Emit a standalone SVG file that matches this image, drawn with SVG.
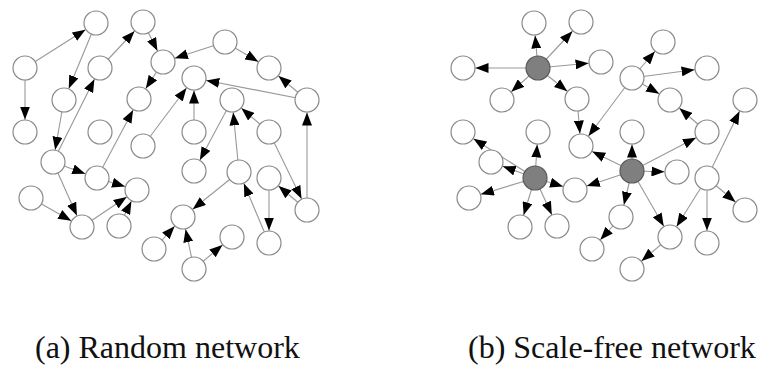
<svg xmlns="http://www.w3.org/2000/svg" width="779" height="374" viewBox="0 0 779 374">
<style>
.e{stroke:#999;stroke-width:1.1;fill:none;marker-end:url(#ah)}
.n{fill:#fff;stroke:#8a8a8a;stroke-width:1.2}
.h{fill:#7f7f7f;stroke:#5a5a5a;stroke-width:1.2}
.lbl{font-size:32px;fill:#111}
</style>
<defs>
<marker id="ah" markerUnits="userSpaceOnUse" markerWidth="13" markerHeight="10" refX="25.5" refY="5" orient="auto">
<path d="M0,0 L13,5 L0,10 Z" fill="#000"/>
</marker>
</defs>
<rect width="779" height="374" fill="#fff"/>
<g id="connectors">
<g id="edges-a">
<line class="e" x1="25" y1="68" x2="96" y2="23"/>
<line class="e" x1="25" y1="68" x2="25" y2="132"/>
<line class="e" x1="96" y1="23" x2="64" y2="100"/>
<line class="e" x1="64" y1="100" x2="53" y2="162"/>
<line class="e" x1="53" y1="162" x2="100" y2="68"/>
<line class="e" x1="100" y1="68" x2="143" y2="22"/>
<line class="e" x1="143" y1="22" x2="163" y2="62"/>
<line class="e" x1="163" y1="62" x2="139" y2="99"/>
<line class="e" x1="97" y1="178" x2="139" y2="99"/>
<line class="e" x1="225" y1="42" x2="163" y2="62"/>
<line class="e" x1="225" y1="42" x2="269" y2="68"/>
<line class="e" x1="307" y1="100" x2="269" y2="68"/>
<line class="e" x1="307" y1="100" x2="194" y2="78"/>
<line class="e" x1="194" y1="132" x2="194" y2="78"/>
<line class="e" x1="143" y1="146" x2="194" y2="78"/>
<line class="e" x1="232" y1="100" x2="194" y2="171"/>
<line class="e" x1="239" y1="172" x2="232" y2="100"/>
<line class="e" x1="269" y1="132" x2="232" y2="100"/>
<line class="e" x1="269" y1="132" x2="307" y2="210"/>
<line class="e" x1="307" y1="210" x2="307" y2="100"/>
<line class="e" x1="307" y1="210" x2="269" y2="178"/>
<line class="e" x1="269" y1="178" x2="269" y2="243"/>
<line class="e" x1="269" y1="243" x2="239" y2="172"/>
<line class="e" x1="239" y1="172" x2="183" y2="217"/>
<line class="e" x1="194" y1="269" x2="183" y2="217"/>
<line class="e" x1="194" y1="269" x2="232" y2="237"/>
<line class="e" x1="154" y1="249" x2="183" y2="217"/>
<line class="e" x1="53" y1="162" x2="97" y2="178"/>
<line class="e" x1="53" y1="162" x2="82" y2="227"/>
<line class="e" x1="31" y1="198" x2="82" y2="227"/>
<line class="e" x1="82" y1="227" x2="137" y2="190"/>
<line class="e" x1="97" y1="178" x2="137" y2="190"/>
<line class="e" x1="119" y1="226" x2="137" y2="190"/>
</g>
<g id="edges-b" transform="translate(438,0)">
<line class="e" x1="100" y1="68" x2="96" y2="23"/>
<line class="e" x1="100" y1="68" x2="143" y2="22"/>
<line class="e" x1="100" y1="68" x2="25" y2="68"/>
<line class="e" x1="100" y1="68" x2="163" y2="62"/>
<line class="e" x1="100" y1="68" x2="64" y2="100"/>
<line class="e" x1="100" y1="68" x2="139" y2="99"/>
<line class="e" x1="139" y1="99" x2="143" y2="146"/>
<line class="e" x1="194" y1="78" x2="143" y2="146"/>
<line class="e" x1="194" y1="78" x2="225" y2="42"/>
<line class="e" x1="194" y1="78" x2="269" y2="68"/>
<line class="e" x1="194" y1="78" x2="232" y2="100"/>
<line class="e" x1="269" y1="132" x2="232" y2="100"/>
<line class="e" x1="194" y1="171" x2="269" y2="132"/>
<line class="e" x1="269" y1="178" x2="307" y2="100"/>
<line class="e" x1="97" y1="178" x2="25" y2="132"/>
<line class="e" x1="97" y1="178" x2="100" y2="132"/>
<line class="e" x1="97" y1="178" x2="53" y2="162"/>
<line class="e" x1="97" y1="178" x2="31" y2="198"/>
<line class="e" x1="97" y1="178" x2="137" y2="190"/>
<line class="e" x1="97" y1="178" x2="82" y2="227"/>
<line class="e" x1="97" y1="178" x2="119" y2="226"/>
<line class="e" x1="194" y1="171" x2="194" y2="132"/>
<line class="e" x1="194" y1="171" x2="239" y2="172"/>
<line class="e" x1="194" y1="171" x2="137" y2="190"/>
<line class="e" x1="194" y1="171" x2="183" y2="217"/>
<line class="e" x1="194" y1="171" x2="232" y2="237"/>
<line class="e" x1="194" y1="171" x2="143" y2="146"/>
<line class="e" x1="269" y1="178" x2="232" y2="237"/>
<line class="e" x1="269" y1="178" x2="269" y2="243"/>
<line class="e" x1="269" y1="178" x2="307" y2="210"/>
<line class="e" x1="232" y1="237" x2="194" y2="269"/>
<line class="e" x1="183" y1="217" x2="154" y2="249"/>
</g>
</g>
<g id="nodes-a">
<g id="a1"><circle class="n" cx="96" cy="23" r="12"/></g>
<g id="a2"><circle class="n" cx="143" cy="22" r="12"/></g>
<g id="a3"><circle class="n" cx="25" cy="68" r="12"/></g>
<g id="a4"><circle class="n" cx="100" cy="68" r="12"/></g>
<g id="a5"><circle class="n" cx="163" cy="62" r="12"/></g>
<g id="a6"><circle class="n" cx="225" cy="42" r="12"/></g>
<g id="a7"><circle class="n" cx="269" cy="68" r="12"/></g>
<g id="a8"><circle class="n" cx="194" cy="78" r="12"/></g>
<g id="a9"><circle class="n" cx="64" cy="100" r="12"/></g>
<g id="a10"><circle class="n" cx="139" cy="99" r="12"/></g>
<g id="a11"><circle class="n" cx="232" cy="100" r="12"/></g>
<g id="a12"><circle class="n" cx="307" cy="100" r="12"/></g>
<g id="a13"><circle class="n" cx="25" cy="132" r="12"/></g>
<g id="a14"><circle class="n" cx="100" cy="132" r="12"/></g>
<g id="a15"><circle class="n" cx="269" cy="132" r="12"/></g>
<g id="a16"><circle class="n" cx="194" cy="132" r="12"/></g>
<g id="a17"><circle class="n" cx="143" cy="146" r="12"/></g>
<g id="a18"><circle class="n" cx="53" cy="162" r="12"/></g>
<g id="a19"><circle class="n" cx="97" cy="178" r="12"/></g>
<g id="a20"><circle class="n" cx="137" cy="190" r="12"/></g>
<g id="a21"><circle class="n" cx="31" cy="198" r="12"/></g>
<g id="a22"><circle class="n" cx="82" cy="227" r="12"/></g>
<g id="a23"><circle class="n" cx="119" cy="226" r="12"/></g>
<g id="a24"><circle class="n" cx="194" cy="171" r="12"/></g>
<g id="a25"><circle class="n" cx="239" cy="172" r="12"/></g>
<g id="a26"><circle class="n" cx="269" cy="178" r="12"/></g>
<g id="a27"><circle class="n" cx="307" cy="210" r="12"/></g>
<g id="a28"><circle class="n" cx="183" cy="217" r="12"/></g>
<g id="a29"><circle class="n" cx="232" cy="237" r="12"/></g>
<g id="a30"><circle class="n" cx="269" cy="243" r="12"/></g>
<g id="a31"><circle class="n" cx="154" cy="249" r="12"/></g>
<g id="a32"><circle class="n" cx="194" cy="269" r="12"/></g>
</g>
<g id="nodes-b" transform="translate(438,0)">
<g id="b1"><circle class="n" cx="96" cy="23" r="12"/></g>
<g id="b2"><circle class="n" cx="143" cy="22" r="12"/></g>
<g id="b3"><circle class="n" cx="25" cy="68" r="12"/></g>
<g id="b4"><circle class="h" cx="100" cy="68" r="12"/></g>
<g id="b5"><circle class="n" cx="163" cy="62" r="12"/></g>
<g id="b6"><circle class="n" cx="225" cy="42" r="12"/></g>
<g id="b7"><circle class="n" cx="269" cy="68" r="12"/></g>
<g id="b8"><circle class="n" cx="194" cy="78" r="12"/></g>
<g id="b9"><circle class="n" cx="64" cy="100" r="12"/></g>
<g id="b10"><circle class="n" cx="139" cy="99" r="12"/></g>
<g id="b11"><circle class="n" cx="232" cy="100" r="12"/></g>
<g id="b12"><circle class="n" cx="307" cy="100" r="12"/></g>
<g id="b13"><circle class="n" cx="25" cy="132" r="12"/></g>
<g id="b14"><circle class="n" cx="100" cy="132" r="12"/></g>
<g id="b15"><circle class="n" cx="269" cy="132" r="12"/></g>
<g id="b16"><circle class="n" cx="194" cy="132" r="12"/></g>
<g id="b17"><circle class="n" cx="143" cy="146" r="12"/></g>
<g id="b18"><circle class="n" cx="53" cy="162" r="12"/></g>
<g id="b19"><circle class="h" cx="97" cy="178" r="12"/></g>
<g id="b20"><circle class="n" cx="137" cy="190" r="12"/></g>
<g id="b21"><circle class="n" cx="31" cy="198" r="12"/></g>
<g id="b22"><circle class="n" cx="82" cy="227" r="12"/></g>
<g id="b23"><circle class="n" cx="119" cy="226" r="12"/></g>
<g id="b24"><circle class="h" cx="194" cy="171" r="12"/></g>
<g id="b25"><circle class="n" cx="239" cy="172" r="12"/></g>
<g id="b26"><circle class="n" cx="269" cy="178" r="12"/></g>
<g id="b27"><circle class="n" cx="307" cy="210" r="12"/></g>
<g id="b28"><circle class="n" cx="183" cy="217" r="12"/></g>
<g id="b29"><circle class="n" cx="232" cy="237" r="12"/></g>
<g id="b30"><circle class="n" cx="269" cy="243" r="12"/></g>
<g id="b31"><circle class="n" cx="154" cy="249" r="12"/></g>
<g id="b32"><circle class="n" cx="194" cy="269" r="12"/></g>
</g>
<g id="labels" font-family="'Liberation Serif', 'DejaVu Serif', serif">
<text class="lbl" x="35" y="358" font-family="Liberation Serif, serif">(a) Random network</text>
<text class="lbl" x="468" y="358" font-family="Liberation Serif, serif">(b) Scale-free network</text>
</g>
</svg>
